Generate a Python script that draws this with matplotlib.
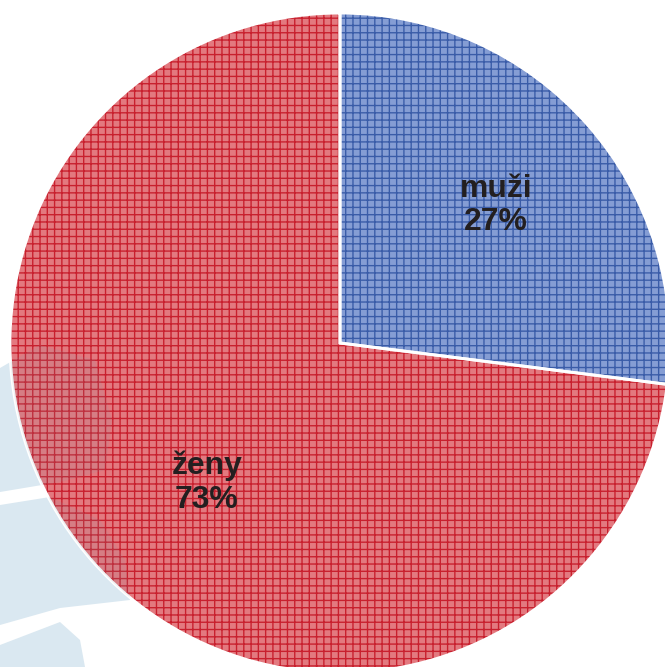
import numpy as np
import matplotlib.pyplot as plt
from matplotlib.patches import Polygon, Circle

labels = ["muži", "ženy"]
shares = [27, 73]
fill_colors = ["#859dd4", "#e3797f"]
hatch_colors = ["#3a5ca8", "#c8202e"]

plt.rcParams['hatch.linewidth'] = 0.75

DPI = 131
fig = plt.figure(figsize=(665 / DPI, 667 / DPI), dpi=DPI)
ax = fig.add_axes([0, 0, 1, 1])

r_px = 330.0
cx, cy = 340.0, 343.0

wedges, _ = ax.pie(shares, colors=fill_colors, startangle=90, counterclock=False,
                   radius=1.0, wedgeprops=dict(linewidth=0))
for w, hc in zip(wedges, hatch_colors):
    w.set_hatch('+++')
    w.set_edgecolor(hc)
    w.set_linewidth(0)
    w.set_zorder(2)

# white separators
sep, _ = ax.pie(shares, colors=['none', 'none'], startangle=90, counterclock=False,
                radius=1.0, wedgeprops=dict(linewidth=1.6, edgecolor='white', fill=False))
for s in sep:
    s.set_zorder(3)

label_dist = [0.63, 0.585]
label_shift = [0, 5]
for w, lab, val, d, sh in zip(wedges, labels, shares, label_dist, label_shift):
    ang = np.deg2rad((w.theta1 + w.theta2) / 2 + sh)
    ax.text(d * np.cos(ang), d * np.sin(ang), f"{lab}\n{val}%",
            ha='center', va='center', fontsize=17.5, fontweight='bold',
            family='Liberation Sans', color='#231f20', linespacing=1.15, zorder=6)

# faint watermark on the left
def px(x, y):
    return ((x - cx) / r_px, (cy - y) / r_px)

shapes = [
    [px(0, 368), px(40, 345), px(95, 360), px(112, 420), px(105, 470),
     px(60, 482), px(0, 492)],
    [px(0, 505), px(50, 497), px(100, 520), px(125, 560), px(130, 600),
     px(60, 608), px(0, 625)],
    [px(0, 645), px(60, 622), px(80, 640), px(85, 667), px(0, 667)],
]
pie_clip = Circle((0, 0), 1.0, transform=ax.transData)
for pts in shapes:
    ax.add_patch(Polygon(pts, closed=True, facecolor='#dae8f1', edgecolor='none', zorder=1))
    ov = Polygon(pts, closed=True, facecolor='#7f98a8', edgecolor='none',
                 alpha=0.13, zorder=4)
    ax.add_patch(ov)
    ov.set_clip_path(pie_clip)

ax.set_xlim(-cx / r_px, (665 - cx) / r_px)
ax.set_ylim(-(667 - cy) / r_px, cy / r_px)
ax.set_aspect('auto')
ax.axis('off')

fig.savefig('out.png', dpi=DPI)
